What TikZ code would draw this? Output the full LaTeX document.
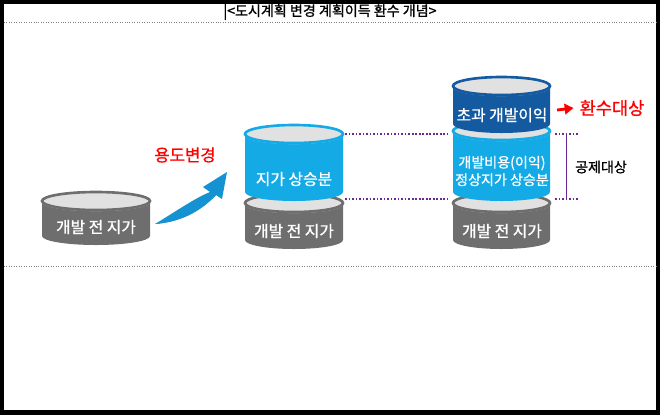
\documentclass[tikz,border=0pt]{standalone}
\usepackage{fontspec}
\setmainfont{Noto Sans CJK KR}
\newfontfamily\kr[FakeBold=1]{Noto Sans CJK KR}
\usetikzlibrary{arrows.meta}
\definecolor{drumgray}{RGB}{110,110,110}
\definecolor{skyblue}{RGB}{20,170,230}
\definecolor{navyblue}{RGB}{20,90,160}
\definecolor{lidgray}{RGB}{225,225,225}
\definecolor{dotpurple}{RGB}{110,40,150}
% drum: x left, x right, y top, y bottom, body colour
\newcommand{\drum}[5]{%
  \fill[#5] (#1,#3) -- (#1,#4) arc[start angle=180,end angle=0,x radius={(#2-#1)/2},y radius=9] -- (#2,#3) -- cycle;
  \draw[white,line width=1.2pt] (#1,#3) arc[start angle=180,end angle=0,x radius={(#2-#1)/2},y radius=9];
  \draw[#5,fill=lidgray,line width=1.5pt] ({(#1+#2)/2},#3) ellipse[x radius={(#2-#1)/2},y radius=9];
}
\begin{document}
\begin{tikzpicture}[x=0.02cm,y=-0.02cm,
    label/.style={text=white,font=\kr\fontsize{9}{10.5}\selectfont,align=center},
    note/.style={font=\kr\fontsize{9.5}{11}\selectfont},
    guide/.style={dotpurple,densely dotted,line width=1pt}]
  \useasboundingbox (0,0) rectangle (660,414);
  %frame
  \draw[line width=3pt] (1.5,1.5) rectangle (658.5,412.5);
  \draw[gray,densely dotted] (4,22) -- (656,22);
  \draw[gray,densely dotted] (4,266) -- (656,266);
  \node[font=\kr\fontsize{8}{10}\selectfont] (title) at (330,12) {|<도시계획 변경 계획이득 환수 개념>};
  %left
  \drum{42}{150}{201}{236}{drumgray}
  \node[label] (base1) at (96,227) {개발 전 지가};
  %middle
  \drum{245}{343}{203}{240}{drumgray}
  \drum{245}{343}{134}{192}{skyblue}
  \node[label] (base2) at (294,231) {개발 전 지가};
  \node[label] (rise) at (294,179) {지가 상승분};
  %right
  \drum{453}{550}{203}{240}{drumgray}
  \drum{453}{550}{131}{192}{skyblue}
  \drum{453}{550}{86}{124}{navyblue}
  \node[label] (base3) at (502,231) {개발 전 지가};
  \node[label,font=\kr\fontsize{8}{10}\selectfont] (cost) at (502,171) {개발비용(이익)\\정상지가 상승분};
  \node[label] (excess) at (502,115) {초과 개발이익};
  %change of use
  \node[note,red] (change) at (185,155) {용도변경};
  \fill[skyblue!70!navyblue] (155,224) .. controls (180,218) and (198,204) .. (210,192)
     -- (203,187) -- (227,172) -- (222,199) -- (216,195)
     .. controls (200,212) and (180,222) .. (155,224) -- cycle;
  \fill[skyblue!70!navyblue] (155,224) .. controls (175,212) and (195,198) .. (210,192)
     -- (216,195) .. controls (200,212) and (180,222) .. (155,224);
  %guides
  \coordinate (gt) at (345,134);
  \coordinate (gb) at (345,199);
  \draw[guide] (gt) -- (448,134) (555,134) -- (578,134);
  \draw[guide] (gb) -- (448,199) (555,199) -- (578,199);
  \draw[dotpurple] (566,134) -- (566,199);
  \node[note,font=\kr\fontsize{8}{10}\selectfont] (deduct) at (601,167) {공제대상};
  \coordinate (ra) at (557,110);
  \node[note,red,font=\kr\fontsize{10}{12}\selectfont] (recover) at (612,108) {환수대상};
  \draw[red,line width=1.6pt,-{Triangle[length=5pt,width=6pt]}] (ra) -- (recover.west);
\end{tikzpicture}
\end{document}
